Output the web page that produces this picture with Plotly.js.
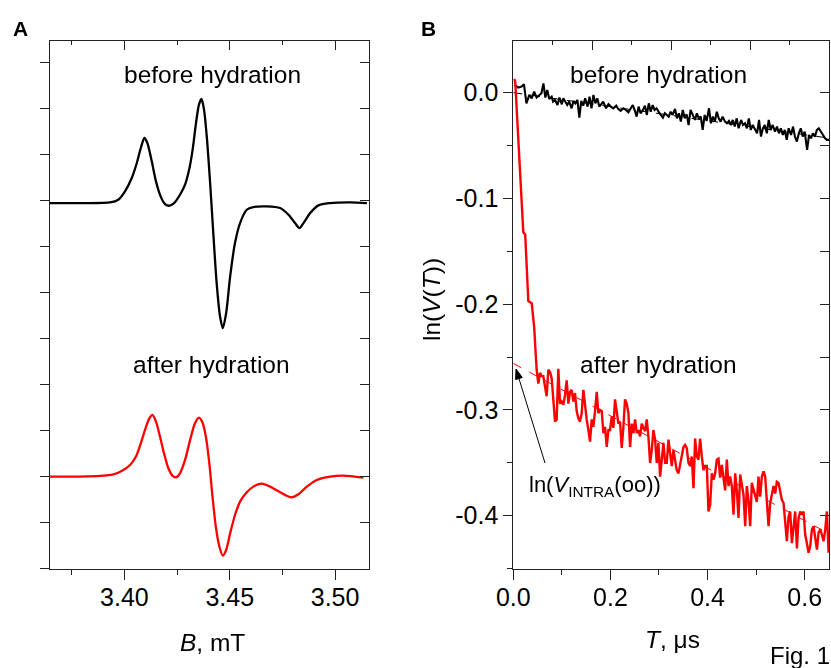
<!DOCTYPE html>
<html>
<head>
<meta charset="utf-8">
<script src="https://cdn.plot.ly/plotly-3.0.1.min.js"></script>
<style>html,body{margin:0;padding:0;background:#fff;}#chart{width:831px;height:668px;}</style>
</head>
<body>
<div id="chart"></div>
<script>
// ---------- Panel A: EPR spectra (field B, mT; arbitrary amplitude) ----------
const specBeforeB = [3.3647,3.3805,3.3932,3.3971,3.4003,3.4035,3.4059,3.4078,3.4095,3.4109,
  3.4130,3.4150,3.4172,3.4193,3.4212,3.4236,3.4264,3.4288,3.4309,3.4324,
  3.4340,3.4354,3.4366,3.4378,3.4391,3.4407,3.4423,3.4438,3.4454,3.4467,
  3.4483,3.4502,3.4525,3.4549,3.4581,3.4612,3.4676,3.4739,3.4779,3.4810,
  3.4831,3.4850,3.4882,3.4921,3.4977,3.5071,3.5151];
const specBeforeV = [7.943,7.943,7.958,8.016,8.197,8.487,8.813,9.139,9.356,9.248,
  8.849,8.414,8.088,7.921,7.885,7.943,8.124,8.342,8.704,9.103,
  9.682,10.081,10.204,9.972,9.392,8.378,7.219,6.204,5.480,5.226,
  5.552,6.349,7.074,7.508,7.798,7.856,7.871,7.835,7.690,7.508,
  7.400,7.508,7.726,7.893,7.943,7.958,7.943];
const specAfterB = [3.3647,3.3789,3.3884,3.3948,3.3987,3.4027,3.4055,3.4078,3.4098,3.4119,
  3.4133,3.4150,3.4169,3.4188,3.4209,3.4229,3.4245,3.4264,3.4288,3.4312,
  3.4335,3.4354,3.4372,3.4388,3.4404,3.4419,3.4435,3.4451,3.4467,3.4483,
  3.4502,3.4525,3.4549,3.4581,3.4612,3.4652,3.4692,3.4739,3.4790,3.4826,
  3.4866,3.4913,3.4977,3.5040,3.5135];
const specAfterV = [2.001,2.001,2.015,2.051,2.124,2.254,2.436,2.725,3.015,3.269,
  3.341,3.196,2.870,2.508,2.182,2.015,1.986,2.073,2.363,2.798,
  3.160,3.283,3.160,2.834,2.254,1.530,0.878,0.479,0.283,0.407,
  0.769,1.167,1.457,1.660,1.783,1.849,1.783,1.660,1.551,1.617,
  1.783,1.928,2.001,2.022,1.979];

// ---------- Panel B: ln(V(T)) vs T (μs) ----------
const decayBeforeT = [0.003,0.010,0.017,0.022,0.027,0.033,0.038,0.043,0.048,0.054,
  0.058,0.062,0.066,0.070,0.074,0.079,0.082,0.086,0.091,0.095,
  0.100,0.103,0.107,0.111,0.115,0.120,0.124,0.128,0.132,0.136,
  0.140,0.144,0.148,0.153,0.157,0.161,0.165,0.169,0.173,0.177,
  0.181,0.185,0.191,0.196,0.201,0.206,0.212,0.216,0.221,0.227,
  0.232,0.237,0.242,0.246,0.251,0.254,0.258,0.262,0.267,0.271,
  0.275,0.279,0.283,0.287,0.291,0.295,0.300,0.304,0.308,0.312,
  0.316,0.320,0.324,0.328,0.333,0.337,0.341,0.345,0.349,0.353,
  0.357,0.361,0.365,0.370,0.374,0.378,0.382,0.386,0.390,0.394,
  0.398,0.403,0.407,0.411,0.415,0.419,0.423,0.427,0.431,0.436,
  0.440,0.444,0.448,0.452,0.456,0.460,0.464,0.469,0.473,0.477,
  0.481,0.485,0.489,0.493,0.497,0.502,0.506,0.510,0.514,0.518,
  0.522,0.526,0.530,0.534,0.539,0.543,0.547,0.551,0.555,0.559,
  0.563,0.567,0.572,0.576,0.580,0.584,0.588,0.592,0.596,0.600,
  0.605,0.609,0.613,0.617,0.621,0.625,0.629,0.633,0.638,0.642,
  0.646,0.650];
const decayBeforeV = [0.0072,0.0047,0.0057,0.0079,-0.0101,-0.0022,-0.0054,0.0009,-0.0047,-0.0022,
  -0.0006,0.0088,-0.0047,0.0025,-0.0060,-0.0038,-0.0085,-0.0069,-0.0117,-0.0047,
  -0.0110,-0.0054,-0.0085,-0.0117,-0.0085,-0.0148,-0.0079,-0.0101,-0.0069,-0.0236,
  -0.0079,-0.0123,-0.0054,-0.0132,-0.0038,-0.0148,-0.0022,-0.0101,-0.0054,-0.0132,
  -0.0110,-0.0085,-0.0148,-0.0110,-0.0132,-0.0148,-0.0123,-0.0154,-0.0173,-0.0148,
  -0.0164,-0.0186,-0.0148,-0.0117,-0.0180,-0.0227,-0.0132,-0.0195,-0.0164,-0.0123,
  -0.0211,-0.0101,-0.0180,-0.0117,-0.0164,-0.0148,-0.0186,-0.0211,-0.0236,-0.0195,
  -0.0211,-0.0227,-0.0180,-0.0211,-0.0154,-0.0243,-0.0195,-0.0274,-0.0164,-0.0243,
  -0.0205,-0.0306,-0.0164,-0.0227,-0.0258,-0.0195,-0.0243,-0.0227,-0.0353,-0.0211,
  -0.0268,-0.0148,-0.0290,-0.0227,-0.0274,-0.0180,-0.0243,-0.0274,-0.0227,-0.0274,
  -0.0290,-0.0268,-0.0306,-0.0258,-0.0321,-0.0243,-0.0337,-0.0258,-0.0306,-0.0290,
  -0.0337,-0.0243,-0.0353,-0.0306,-0.0337,-0.0384,-0.0258,-0.0416,-0.0337,-0.0306,
  -0.0384,-0.0258,-0.0353,-0.0306,-0.0369,-0.0321,-0.0384,-0.0337,-0.0400,-0.0353,
  -0.0447,-0.0337,-0.0400,-0.0321,-0.0416,-0.0463,-0.0384,-0.0337,-0.0416,-0.0369,
  -0.0542,-0.0400,-0.0432,-0.0384,-0.0416,-0.0353,-0.0337,-0.0369,-0.0400,-0.0432,
  -0.0447,-0.0447];

const decayAfterT = [0.0020,0.0040,0.0206,0.0245,0.0309,0.0379,0.0430,
  0.0447,0.0481,0.0515,0.0550,0.0584,0.0618,0.0653,0.0687,0.0721,0.0756,
  0.0790,0.0824,0.0859,0.0893,0.0927,0.0962,0.0996,0.1031,0.1065,0.1099,
  0.1134,0.1168,0.1202,0.1237,0.1271,0.1305,0.1340,0.1374,0.1408,0.1443,
  0.1477,0.1511,0.1546,0.1580,0.1614,0.1649,0.1683,0.1718,0.1752,0.1786,
  0.1821,0.1855,0.1889,0.1924,0.1958,0.1992,0.2027,0.2061,0.2095,0.2130,
  0.2164,0.2198,0.2233,0.2267,0.2301,0.2336,0.2370,0.2405,0.2439,0.2473,
  0.2508,0.2542,0.2576,0.2611,0.2645,0.2679,0.2714,0.2748,0.2782,0.2817,
  0.2851,0.2885,0.2920,0.2954,0.2988,0.3023,0.3057,0.3092,0.3126,0.3160,
  0.3195,0.3229,0.3263,0.3298,0.3332,0.3366,0.3401,0.3435,0.3469,0.3504,
  0.3538,0.3572,0.3607,0.3641,0.3675,0.3710,0.3744,0.3779,0.3813,0.3847,
  0.3882,0.3916,0.3950,0.3985,0.4019,0.4053,0.4088,0.4122,0.4156,0.4191,
  0.4225,0.4259,0.4294,0.4328,0.4362,0.4397,0.4431,0.4466,0.4500,0.4534,
  0.4569,0.4603,0.4637,0.4672,0.4706,0.4740,0.4775,0.4809,0.4843,0.4878,
  0.4912,0.4946,0.4981,0.5015,0.5049,0.5084,0.5118,0.5153,0.5187,0.5221,
  0.5256,0.5290,0.5324,0.5359,0.5393,0.5427,0.5462,0.5496,0.5530,0.5565,
  0.5599,0.5633,0.5668,0.5702,0.5736,0.5771,0.5805,0.5840,0.5874,0.5908,
  0.5943,0.5977,0.6011,0.6046,0.6080,0.6114,0.6149,0.6183,0.6217,0.6252,
  0.6286,0.6320,0.6355,0.6389,0.6423,0.6458,0.6492];
const decayAfterV = [0.013,0.010,-0.132,-0.134,-0.197,-0.199,-0.222,
  -0.240,-0.262,-0.275,-0.265,-0.268,-0.268,-0.278,-0.287,-0.262,-0.264,
  -0.270,-0.290,-0.311,-0.309,-0.261,-0.294,-0.292,-0.295,-0.286,-0.272,
  -0.294,-0.283,-0.281,-0.292,-0.284,-0.301,-0.308,-0.311,-0.303,-0.281,
  -0.297,-0.309,-0.319,-0.330,-0.309,-0.316,-0.301,-0.283,-0.303,-0.300,
  -0.301,-0.322,-0.316,-0.335,-0.319,-0.319,-0.306,-0.317,-0.290,-0.305,
  -0.313,-0.311,-0.336,-0.316,-0.290,-0.294,-0.303,-0.335,-0.313,-0.322,
  -0.309,-0.322,-0.319,-0.325,-0.313,-0.317,-0.320,-0.309,-0.325,-0.350,
  -0.338,-0.319,-0.328,-0.350,-0.331,-0.363,-0.344,-0.331,-0.350,-0.350,
  -0.328,-0.344,-0.353,-0.338,-0.350,-0.357,-0.360,-0.352,-0.344,-0.335,
  -0.333,-0.336,-0.350,-0.353,-0.344,-0.374,-0.327,-0.344,-0.347,-0.327,
  -0.344,-0.357,-0.353,-0.353,-0.396,-0.390,-0.360,-0.366,-0.360,-0.347,
  -0.346,-0.364,-0.352,-0.363,-0.376,-0.347,-0.372,-0.363,-0.372,-0.399,
  -0.360,-0.376,-0.402,-0.361,-0.372,-0.380,-0.410,-0.372,-0.385,-0.410,
  -0.369,-0.376,-0.382,-0.387,-0.363,-0.382,-0.363,-0.358,-0.363,-0.388,
  -0.410,-0.388,-0.379,-0.372,-0.379,-0.368,-0.369,-0.376,-0.385,-0.388,
  -0.404,-0.424,-0.401,-0.396,-0.426,-0.407,-0.396,-0.431,-0.402,-0.396,
  -0.399,-0.396,-0.418,-0.426,-0.435,-0.429,-0.413,-0.410,-0.420,-0.432,
  -0.416,-0.413,-0.418,-0.424,-0.413,-0.396,-0.435];

// linear fits
const fitBeforeT = [0, 0.65];
const fitBeforeV = [0.000, -0.043];
const fitAfterT = [0, 0.65];
const fitAfterV = [-0.256, -0.417];

// tick labels
const bTickVals = [3.40, 3.45, 3.50];
const bTickText = ["3.40", "3.45", "3.50"];
const tTickVals = [0, 0.2, 0.4, 0.6];
const tTickText = ["0.0", "0.2", "0.4", "0.6"];
const lnTickVals = [0, -0.1, -0.2, -0.3, -0.4];
const lnTickText = ["0.0", "-0.1", "-0.2", "-0.3", "-0.4"];

// ---------- build ----------
const FONT = 'Arial, "Liberation Sans", sans-serif';
const AX = '#222';
const W = 831, H = 668;
const px = v => v / W;
const py = v => 1 - v / H;

// invisible carrier traces so that the mirrored frame axes (top / right) are created
const ghost = (x, y, xa, ya) => ({x: x, y: y, xaxis: xa, yaxis: ya, mode: 'markers',
  marker: {size: 1, opacity: 0}, opacity: 0, hoverinfo: 'skip', showlegend: false});

const traces = [
  {x: specBeforeB, y: specBeforeV, xaxis: 'x', yaxis: 'y', mode: 'lines',
   line: {color: '#000', width: 2.3, shape: 'spline', smoothing: 0.8}, hoverinfo: 'skip'},
  {x: specAfterB, y: specAfterV, xaxis: 'x', yaxis: 'y', mode: 'lines',
   line: {color: '#ff0000', width: 2.3, shape: 'spline', smoothing: 0.8}, hoverinfo: 'skip'},
  {x: fitBeforeT, y: fitBeforeV, xaxis: 'x2', yaxis: 'y2', mode: 'lines',
   line: {color: '#000', width: 1, dash: 'dash'}, hoverinfo: 'skip'},
  {x: decayBeforeT, y: decayBeforeV, xaxis: 'x2', yaxis: 'y2', mode: 'lines',
   line: {color: '#000', width: 2.1}, hoverinfo: 'skip'},
  {x: decayAfterT, y: decayAfterV, xaxis: 'x2', yaxis: 'y2', mode: 'lines',
   line: {color: '#ff0000', width: 2.4}, hoverinfo: 'skip'},
  {x: fitAfterT, y: fitAfterV, xaxis: 'x2', yaxis: 'y2', mode: 'lines',
   line: {color: '#ff0000', width: 1, dash: 'dash'}, hoverinfo: 'skip'},
  ghost(specBeforeB, specBeforeV, 'x3', 'y'),
  ghost(specBeforeB, specBeforeV, 'x', 'y3'),
  ghost(fitAfterT, fitAfterV, 'x4', 'y2'),
  ghost(fitAfterT, fitAfterV, 'x2', 'y4')
];

const yDom = [1 - 568.7 / H, 1 - 40.7 / H];
const TF = {family: FONT, size: 25, color: '#000'};
const common = {showgrid: false, zeroline: false, showline: true, linecolor: AX, linewidth: 1,
  tickcolor: AX, tickwidth: 1, tickfont: TF, fixedrange: true};

// arrow (ln(V_INTRA) pointer): tail, tip in pixels
const tail = [545, 463], tip = [516, 369];
const dx = tail[0] - tip[0], dy = tail[1] - tip[1], L = Math.hypot(dx, dy);
const ux = dx / L, uy = dy / L, HL = 10, HW = 3.5;
const bx = tip[0] + HL * ux, by = tip[1] + HL * uy;
const c1 = [bx + HW * uy, by - HW * ux], c2 = [bx - HW * uy, by + HW * ux];
const P = p => px(p[0]).toFixed(5) + ',' + py(p[1]).toFixed(5);

const layout = {
  width: W, height: H,
  margin: {l: 0, r: 0, t: 0, b: 0},
  paper_bgcolor: '#fff', plot_bgcolor: 'rgba(0,0,0,0)',
  showlegend: false,
  font: {family: FONT, size: 24, color: '#000'},
  // Panel A
  xaxis: Object.assign({}, common, {domain: [50 / W, 369 / W], range: [3.3647, 3.5161], anchor: 'y',
    tickmode: 'array', tickvals: bTickVals, ticktext: bTickText, ticks: 'outside', ticklen: 10,
    ticklabelstandoff: -4,
    minor: {ticks: 'outside', ticklen: 5, tickwidth: 1, tickcolor: AX, tick0: 3.375, dtick: 0.025, showgrid: false}}),
  yaxis: Object.assign({}, common, {domain: yDom, range: [0, 11.47], anchor: 'x',
    tickmode: 'linear', tick0: 0, dtick: 1, ticks: 'outside', ticklen: 9, showticklabels: false}),
  xaxis3: Object.assign({}, common, {overlaying: 'x', side: 'top', anchor: 'y', range: [3.3647, 3.5161],
    tickmode: 'linear', tick0: 3.40, dtick: 0.05, ticks: 'inside', ticklen: 9, showticklabels: false,
    minor: {ticks: 'inside', ticklen: 4, tickwidth: 1, tickcolor: AX, tick0: 3.375, dtick: 0.025, showgrid: false}}),
  yaxis3: Object.assign({}, common, {overlaying: 'y', side: 'right', anchor: 'x', range: [0, 11.47],
    tickmode: 'linear', tick0: 0, dtick: 1, ticks: 'inside', ticklen: 9, showticklabels: false}),
  // Panel B
  xaxis2: Object.assign({}, common, {domain: [513.3 / W, 829.3 / W], range: [0, 0.6507], anchor: 'y2',
    tickmode: 'array', tickvals: tTickVals, ticktext: tTickText, ticks: 'outside', ticklen: 10,
    ticklabelstandoff: -4,
    minor: {ticks: 'outside', ticklen: 5, tickwidth: 1, tickcolor: AX, tick0: 0, dtick: 0.1, showgrid: false}}),
  yaxis2: Object.assign({}, common, {domain: yDom, range: [-0.4501, 0.0491], anchor: 'x2',
    tickmode: 'array', tickvals: lnTickVals, ticktext: lnTickText, ticks: 'outside', ticklen: 9,
    minor: {ticks: 'outside', ticklen: 5, tickwidth: 1, tickcolor: AX, tick0: 0, dtick: 0.05, showgrid: false}}),
  xaxis4: Object.assign({}, common, {overlaying: 'x2', side: 'top', anchor: 'y2', range: [0, 4],
    tickmode: 'linear', tick0: 0, dtick: 1, ticks: 'inside', ticklen: 9, showticklabels: false,
    minor: {ticks: 'inside', ticklen: 4, tickwidth: 1, tickcolor: AX, tick0: 0.5, dtick: 0.5, showgrid: false}}),
  yaxis4: Object.assign({}, common, {overlaying: 'y2', side: 'right', anchor: 'x2', range: [-0.4501, 0.0491],
    tickmode: 'linear', tick0: 0, dtick: 0.05, ticks: 'inside', ticklen: 9, showticklabels: false}),
  shapes: [
    {type: 'line', xref: 'paper', yref: 'paper', x0: px(tail[0]), y0: py(tail[1]), x1: px(bx), y1: py(by),
     line: {color: '#000', width: 1}},
    {type: 'path', xref: 'paper', yref: 'paper',
     path: 'M' + P(tip) + ' L' + P(c1) + ' L' + P(c2) + ' Z',
     fillcolor: '#000', line: {color: '#000', width: 1}}
  ],
  annotations: [
    {text: '<b>A</b>', xref: 'paper', yref: 'paper', x: px(20), y: py(29), showarrow: false,
     xanchor: 'center', yanchor: 'middle', font: {family: FONT, size: 21}},
    {text: '<b>B</b>', xref: 'paper', yref: 'paper', x: px(428), y: py(29), showarrow: false,
     xanchor: 'center', yanchor: 'middle', font: {family: FONT, size: 21}},
    {text: 'before hydration', xref: 'paper', yref: 'paper', x: px(212), y: py(74), showarrow: false,
     xanchor: 'center', yanchor: 'middle', font: {family: FONT, size: 24.5}},
    {text: 'after hydration', xref: 'paper', yref: 'paper', x: px(211), y: py(365), showarrow: false,
     xanchor: 'center', yanchor: 'middle', font: {family: FONT, size: 24.5}},
    {text: 'before hydration', xref: 'paper', yref: 'paper', x: px(658.8), y: py(74), showarrow: false,
     xanchor: 'center', yanchor: 'middle', font: {family: FONT, size: 24.5}},
    {text: 'after hydration', xref: 'paper', yref: 'paper', x: px(658.3), y: py(365), showarrow: false,
     xanchor: 'center', yanchor: 'middle', font: {family: FONT, size: 24.5}},
    {text: 'ln(<i>V</i><sub>INTRA</sub>(oo))', xref: 'paper', yref: 'paper', x: px(527), y: py(486), showarrow: false,
     xanchor: 'left', yanchor: 'middle', font: {family: FONT, size: 22}},
    {text: '<i>B</i>, mT', xref: 'paper', yref: 'paper', x: px(212.5), y: py(642), showarrow: false,
     xanchor: 'center', yanchor: 'middle', font: {family: FONT, size: 24.5}},
    {text: '<i>T</i>, μs', xref: 'paper', yref: 'paper', x: px(672), y: py(639), showarrow: false,
     xanchor: 'center', yanchor: 'middle', font: {family: FONT, size: 24.5}},
    {text: 'ln(<i>V</i>(<i>T</i>))', xref: 'paper', yref: 'paper', x: px(431), y: py(300), showarrow: false,
     textangle: -90, xanchor: 'center', yanchor: 'middle', font: {family: FONT, size: 24.5}},
    {text: 'Fig. 1', xref: 'paper', yref: 'paper', x: px(799.5), y: py(655), showarrow: false,
     xanchor: 'center', yanchor: 'middle', font: {family: FONT, size: 24}}
  ]
};

Plotly.newPlot('chart', traces, layout, {staticPlot: true, displayModeBar: false});
</script>
</body>
</html>
